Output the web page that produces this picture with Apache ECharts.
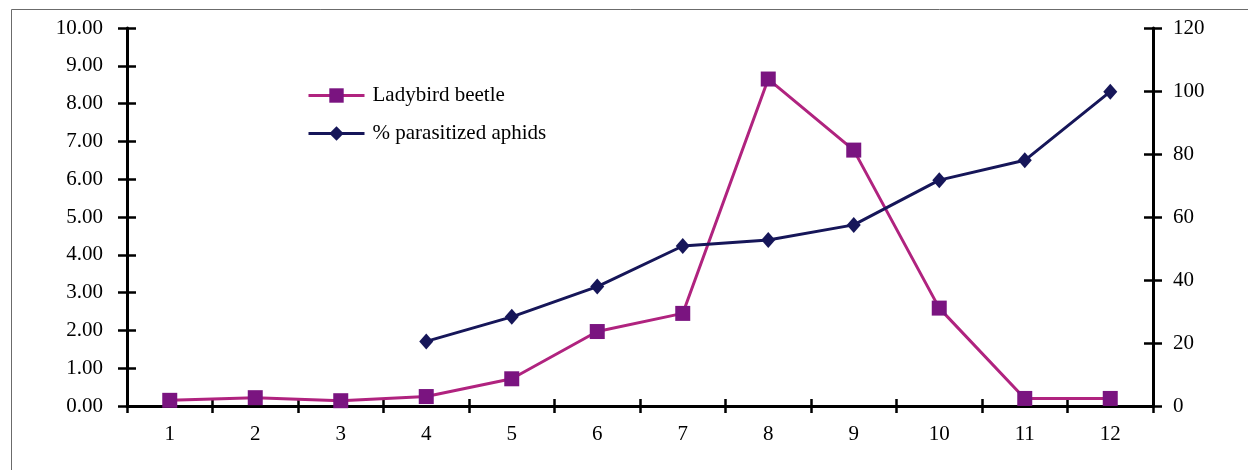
<!DOCTYPE html>
<html>
<head>
<meta charset="utf-8">
<script src="https://cdn.jsdelivr.net/npm/echarts@6/dist/echarts.min.js"></script>
<style>
  html, body { margin: 0; padding: 0; background: #ffffff; }
  #chart { width: 1248px; height: 470px; }
</style>
</head>
<body>
<div id="chart"></div>
<script>
const categories = ['1', '2', '3', '4', '5', '6', '7', '8', '9', '10', '11', '12'];
const ladybirdBeetle = [0.15, 0.22, 0.14, 0.25, 0.72, 1.97, 2.45, 8.65, 6.77, 2.59, 0.2, 0.2];
const parasitizedAphids = [null, null, null, 20.5, 28.3, 37.9, 50.8, 52.7, 57.5, 71.7, 78.0, 99.8];
const leftTicks = { min: 0, max: 10, interval: 1 };
const rightTicks = { min: 0, max: 120, interval: 20 };
const seriesNames = ['Ladybird beetle', '% parasitized aphids'];

const FONT = "'Liberation Serif', 'Times New Roman', serif";
const chart = echarts.init(document.getElementById('chart'), null, { renderer: 'canvas' });

const tickStyle = { color: '#000', width: 2.5 };
const lineStyleAxis = { color: '#000', width: 3 };

chart.setOption({
  animation: false,
  backgroundColor: '#ffffff',
  graphic: [{
    type: 'rect',
    shape: { x: 11.5, y: 9.5, width: 1400, height: 700 },
    style: { fill: 'none', stroke: '#6b6b6b', lineWidth: 1 },
    silent: true
  }],
  grid: { left: 127, right: 95, top: 28, bottom: 64, containLabel: false },
  legend: {
    orient: 'vertical',
    left: 302,
    top: 80,
    itemWidth: 56,
    itemHeight: 18,
    itemGap: 17,
    data: seriesNames,
    lineStyle: { width: 3 },
    textStyle: { fontFamily: FONT, fontSize: 21, color: '#000', padding: [0, 0, 0, 3] }
  },
  xAxis: [{
    type: 'category',
    data: categories,
    position: 'bottom',
    boundaryGap: true,
    axisLine: { show: true, lineStyle: lineStyleAxis },
    axisTick: { show: true, inside: false, length: 7, lineStyle: tickStyle },
    axisLabel: { fontFamily: FONT, fontSize: 21, color: '#000', margin: 18 },
    splitLine: { show: false }
  }, {
    type: 'category',
    data: categories,
    position: 'bottom',
    offset: 0,
    boundaryGap: true,
    axisLine: { show: false },
    axisTick: { show: true, inside: true, length: 7, lineStyle: tickStyle },
    axisLabel: { show: false },
    splitLine: { show: false }
  }],
  yAxis: [{
    type: 'value',
    position: 'left',
    min: leftTicks.min, max: leftTicks.max, interval: leftTicks.interval,
    axisLine: { show: true, lineStyle: lineStyleAxis },
    axisTick: { show: true, inside: false, length: 9, lineStyle: tickStyle },
    axisLabel: { fontFamily: FONT, fontSize: 21, color: '#000', margin: 24,
      formatter: v => v.toFixed(2) },
    splitLine: { show: false }
  }, {
    type: 'value',
    position: 'right',
    min: rightTicks.min, max: rightTicks.max, interval: rightTicks.interval,
    axisLine: { show: true, lineStyle: lineStyleAxis },
    axisTick: { show: true, inside: false, length: 9, lineStyle: tickStyle },
    axisLabel: { fontFamily: FONT, fontSize: 21, color: '#000', margin: 20 },
    splitLine: { show: false }
  }, {
    type: 'value',
    position: 'left',
    offset: 0,
    min: leftTicks.min, max: leftTicks.max, interval: leftTicks.interval,
    axisLine: { show: false },
    axisTick: { show: true, inside: true, length: 9, lineStyle: tickStyle },
    axisLabel: { show: false },
    splitLine: { show: false }
  }, {
    type: 'value',
    position: 'right',
    offset: 0,
    min: rightTicks.min, max: rightTicks.max, interval: rightTicks.interval,
    axisLine: { show: false },
    axisTick: { show: true, inside: true, length: 9, lineStyle: tickStyle },
    axisLabel: { show: false },
    splitLine: { show: false }
  }],
  series: [{
    name: seriesNames[0],
    type: 'line',
    xAxisIndex: 0,
    yAxisIndex: 0,
    data: ladybirdBeetle,
    symbol: 'rect',
    symbolSize: 15,
    showAllSymbol: true,
    lineStyle: { color: '#b0237f', width: 3 },
    itemStyle: { color: '#7a1480' },
    z: 3
  }, {
    name: seriesNames[1],
    type: 'line',
    xAxisIndex: 0,
    yAxisIndex: 1,
    data: parasitizedAphids,
    symbol: 'diamond',
    symbolSize: [14, 16],
    showAllSymbol: true,
    connectNulls: false,
    lineStyle: { color: '#161659', width: 3 },
    itemStyle: { color: '#161659' },
    z: 4
  }]
});
</script>
</body>
</html>
